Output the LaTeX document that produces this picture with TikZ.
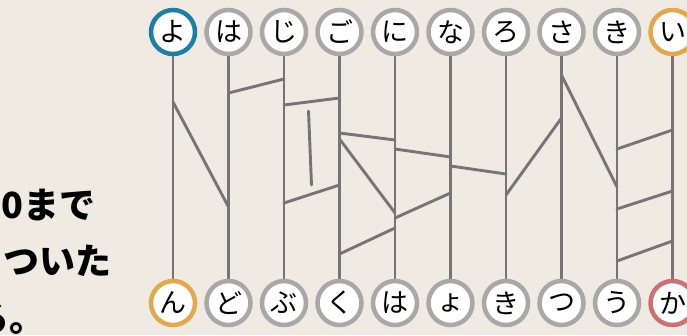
\documentclass[tikz,border=0pt]{standalone}
\usepackage{fontspec}
\newfontfamily\cjk{Noto Sans CJK JP}
\definecolor{bg}{HTML}{EFEBE2}
\definecolor{ringgrey}{HTML}{A9A8A6}
\definecolor{ringblue}{HTML}{1B7FA6}
\definecolor{ringorange}{HTML}{E3A84B}
\definecolor{ringred}{HTML}{CC7173}
\definecolor{linegrey}{HTML}{767474}
\tikzset{
  bead/.style={circle, draw=ringgrey, line width=4.5pt, fill=white,
    minimum size=44pt, inner sep=0pt, font=\cjk\fontsize{27}{27}\selectfont},
  pole/.style={draw=linegrey, line width=2.9pt},
  rung/.style={draw=linegrey, line width=2.9pt, line cap=round},
  lead/.style={anchor=base west, inner sep=0pt,
    font=\cjk\bfseries\fontsize{36}{36}\selectfont}
}
\begin{document}
\begin{tikzpicture}[x=1pt,y=-1pt]
\useasboundingbox (0,0) rectangle (687,335);
\fill[bg] (0,0) rectangle (687,335);
\clip (0,0) rectangle (687,335);
% columns
\foreach \i in {0,...,9} {
  \coordinate (t\i) at ({173+55.5*\i},32);
  \coordinate (b\i) at ({173+55.5*\i},303);
}
\foreach \i in {0,...,9} \draw[pole] (t\i) -- (b\i);
% rungs: col a, y ; col b, y
\foreach \a/\ya/\b/\yb in {0/102/1/207, 1/93/2/79, 2/105/3/98, 2/203/3/185,
   3/133/4/140, 3/139/4/213, 4/149/5/157, 4/218/5/193, 3/254/4/228,
   5/166/6/174, 6/195/7/118, 7/75/8/187, 8/149/9/130, 8/209/9/191, 8/261/9/241}
  \draw[rung] (t\a |- 0,\ya) -- (t\b |- 0,\yb);
% free segment
\coordinate (fs1) at (308.5,111);
\coordinate (fs2) at (311.5,185);
\draw[rung] (fs1) -- (fs2);
% top beads
\foreach \i/\ch in {1/は,2/じ,3/ご,4/に,5/な,6/ろ,7/さ,8/き}
  \node[bead] (T\i) at (t\i) {\ch};
\node[bead, draw=ringblue] (T0) at (t0) {よ};
\node[bead, draw=ringorange] (T9) at (t9) {い};
% bottom beads
\foreach \i/\ch in {1/ど,2/ぶ,3/く,4/は,5/ょ,6/き,7/つ,8/う}
  \node[bead] (B\i) at (b\i) {\ch};
\node[bead, draw=ringorange] (B0) at (b0) {ん};
\node[bead, draw=ringred] (B9) at (b9) {か};
% left text (cut off by the frame, as in the original)
\node[lead] (l1) at (1,218) {0まで};
\node[lead] (l2) at (3,274) {ついた};
\node[lead] (l3) at (-27,331) {る。};
\end{tikzpicture}
\end{document}
